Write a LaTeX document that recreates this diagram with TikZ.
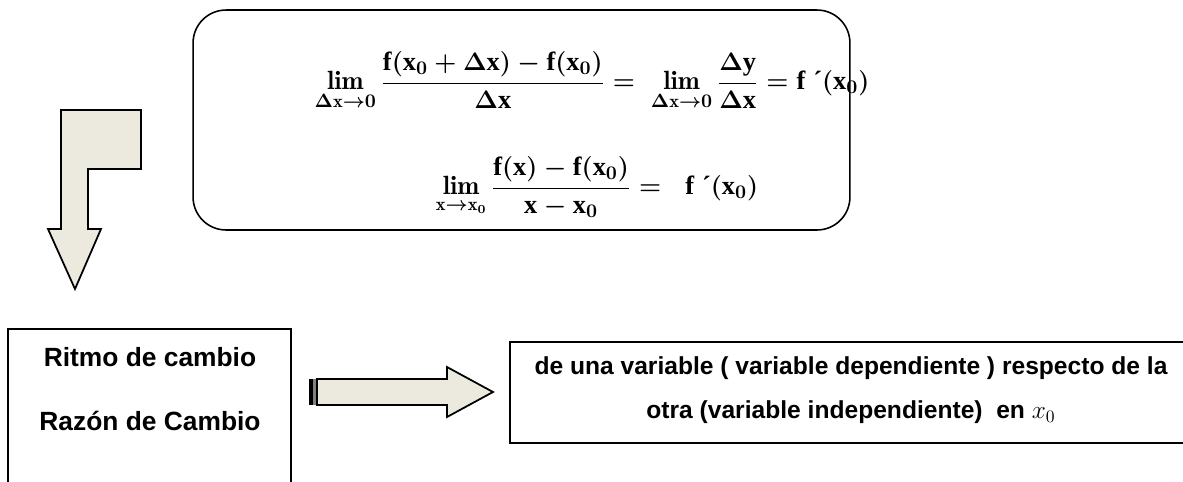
\documentclass[tikz,border=0pt]{standalone}
\usepackage{amsmath,amssymb}
\usepackage{fontspec}
\setsansfont{Liberation Sans}
\newfontfamily\formfont{Liberation Serif}
\usepackage{tikz}
\usetikzlibrary{positioning}

\definecolor{arrowfill}{RGB}{236,233,222}
\newcommand{\lbl}{\sffamily\bfseries\fontsize{14}{17}\selectfont}
\newcommand{\mybf}[1]{\text{\formfont\bfseries #1}}
\newcommand{\myacc}{\ \text{\formfont\bfseries\symbol{"00B4}}}

\begin{document}
\begin{tikzpicture}[
	x=0.02cm, y=-0.02cm,
	formbox/.style={
		draw,
		rounded corners=0.66cm,
		line width=0.9pt,
		minimum width=13.14cm,
		minimum height=4.4cm
	},
	formula/.style={
		inner sep=0pt,
		font=\fontsize{15}{18}\selectfont\boldmath
	},
	label/.style={
		inner sep=0pt,
		font=\lbl
	},
	blockarrow/.style={draw,line width=1pt,fill=arrowfill,line join=miter}
	]
	
	\useasboundingbox (0,0) rectangle (1183,481);
	
	% box with the two limits
	\node[formbox] (limits) at (521.5,120) {};
	
	\node[formula] (lim1) at (592,81)
	{$\displaystyle \lim_{\Delta\mathrm{x}\to 0}\frac{\mybf{f}(\mybf{x}_0+\Delta\mybf{x})-\mybf{f}(\mybf{x}_0)}{\Delta\mybf{x}}=\ \lim_{\Delta\mathrm{x}\to 0}\frac{\Delta\mybf{y}}{\Delta\mybf{x}}=\mybf{f}\myacc(\mybf{x}_0)$};
	
	\node[formula] (lim2) at (597,187)
	{$\displaystyle \lim_{\mathrm{x}\to \mathrm{x}_0}\frac{\mybf{f}(\mybf{x})-\mybf{f}(\mybf{x}_0)}{\mybf{x}-\mybf{x}_0}=\ \ \mybf{f}\myacc(\mybf{x}_0)$};
	
	% bent arrow down
	\draw[blockarrow] (61,110) -- (141,110) -- (141,169) -- (88,169) -- (88,229)
	-- (101,229) -- (75,289) -- (48,229) -- (61,229) -- cycle;
	
	% left box, open at the bottom
	\draw[line width=0.9pt] (8,485) -- (8,329) -- (291,329) -- (291,485);
	\node[label,font=\sffamily\bfseries\fontsize{15}{18}\selectfont] (ritmo) at (150,357) {Ritmo de cambio};
	\node[label,font=\sffamily\bfseries\fontsize{15}{18}\selectfont] (razon) at (150,421) {Razón de Cambio};
	
	% striped arrow to the right
	\fill (309,379) rectangle (313,405);
	\fill[gray] (313,379) rectangle (316,405);
	\draw[blockarrow] (317,379) -- (447,379) -- (447,367) -- (493,392)
	-- (447,417) -- (447,405) -- (317,405) -- cycle;
	
	% right box
	\draw[line width=0.9pt] (1190,342) -- (510,342) -- (510,443) -- (1190,443);
	\node[label] (variable) at (851,368)
	{de una variable ( variable dependiente ) respecto de la};
	\node[label,below=0.42cm of variable] (otra)
	{otra (variable independiente) \ en $x_0$};
	
\end{tikzpicture}
\end{document}
